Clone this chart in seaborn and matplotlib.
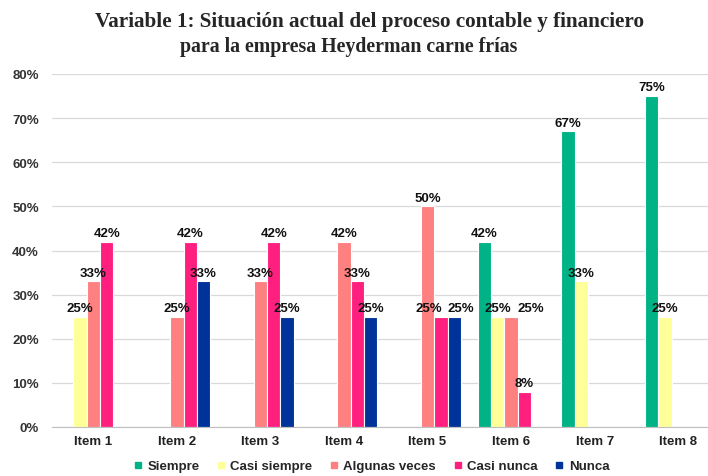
import pandas as pd
import seaborn as sns
import matplotlib.pyplot as plt
from matplotlib.lines import Line2D

items = ['Item 1', 'Item 2', 'Item 3', 'Item 4', 'Item 5', 'Item 6', 'Item 7', 'Item 8']
series = ['Siempre', 'Casi siempre', 'Algunas veces', 'Casi nunca', 'Nunca']
siempre = [0, 0, 0, 0, 0, 42, 67, 75]
casi_siempre = [25, 0, 0, 0, 0, 25, 33, 25]
algunas_veces = [33, 25, 33, 42, 50, 25, 0, 0]
casi_nunca = [42, 42, 42, 33, 25, 8, 0, 0]
nunca = [0, 33, 25, 25, 25, 0, 0, 0]
colors = ['#00b386', '#ffff99', '#ff8080', '#ff1f7f', '#003399']

# label nudges (points) where the original moved labels apart
nudge = {('Casi nunca', 'Item 5'): -9, ('Nunca', 'Item 5'): 5, ('Algunas veces', 'Item 6'): 14}

rows = []
for name, vals in zip(series, [siempre, casi_siempre, algunas_veces, casi_nunca, nunca]):
    for it, v in zip(items, vals):
        rows.append({'Item': it, 'Serie': name, 'Valor': v / 100})
df = pd.DataFrame(rows)

sns.set_style('white')
plt.rcParams['font.family'] = ['Liberation Sans', 'DejaVu Sans']
plt.rcParams['font.weight'] = 'bold'

fig = plt.figure(figsize=(7.08, 4.77), dpi=100)
ax = fig.add_axes([51.5 / 708, 49 / 477, 668.5 / 708, 353 / 477])

sns.barplot(data=df, x='Item', y='Valor', hue='Serie', order=items, hue_order=series,
            palette=colors, saturation=1, width=0.8, edgecolor='white', linewidth=0.8,
            ax=ax, legend=False)

for cont, name in zip(ax.containers, series):
    for bar, it in zip(cont, items):
        h = bar.get_height()
        if h <= 0:
            continue
        ax.annotate('%d%%' % round(h * 100), (bar.get_x() + bar.get_width() / 2, h),
                    xytext=(nudge.get((name, it), 0), 2), textcoords='offset points',
                    ha='center', va='bottom', fontsize=9.5, fontweight='bold', color='#111111')

ax.set_ylim(0, 0.8)
ax.set_xlim(-0.5, 7.5)
ax.set_yticks([i / 10 for i in range(9)])
ax.set_yticklabels(['%d%%' % (i * 10) for i in range(9)], fontsize=9.5, fontweight='bold', color='#333333')
ax.set_xticklabels(items, fontsize=9.5, fontweight='bold', color='#222222')
ax.set_xticks([i + 0.5 for i in range(-1, 8)], minor=True)
ax.tick_params(axis='x', which='major', length=0, pad=6)
ax.tick_params(axis='x', which='minor', length=5, color='#bfbfbf', width=0.8)
ax.tick_params(axis='y', length=0, pad=9)
ax.set_xlabel('')
ax.set_ylabel('')
ax.yaxis.grid(True, color='#d9d9d9', linewidth=0.9)
ax.set_axisbelow(True)
for s in ['left', 'right', 'top']:
    ax.spines[s].set_visible(False)
ax.spines['bottom'].set_color('#bfbfbf')

handles = [Line2D([], [], marker='s', linestyle='', markersize=5, color=c) for c in colors]
fig.legend(handles, series, loc='center', bbox_to_anchor=(371 / 708, 1 - 467 / 477), ncol=5,
           frameon=False, fontsize=9.5, handletextpad=0.3, columnspacing=1.25, handlelength=0.8)

fig.text(369 / 708, 1 - 22 / 477, 'Variable 1: Situación actual del proceso contable y financiero',
         ha='center', va='center', fontsize=15.2, fontweight='bold', family='Liberation Serif')
fig.text(349 / 708, 1 - 47 / 477, 'para la empresa Heyderman carne frías',
         ha='center', va='center', fontsize=14.3, fontweight='bold', family='Liberation Serif')

fig.savefig('out.png', dpi=100)
